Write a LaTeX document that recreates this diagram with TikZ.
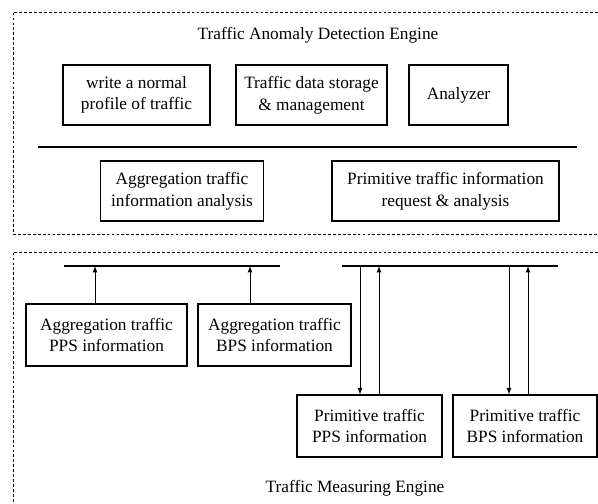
\documentclass[tikz,border=0pt]{standalone}
\usepackage{fontspec}
\setmainfont{Liberation Serif}
\usetikzlibrary{arrows}

\begin{document}
\begin{tikzpicture}[x=0.025cm, y=-0.025cm]
	\tikzstyle{arrow}=[draw, -latex, line width=0.6pt]
	\tikzstyle{frame}=[draw, line width=0.6pt, dash pattern=on 2pt off 1.5pt]
	\tikzstyle{bus}=[draw, line width=1.6pt]
	\tikzstyle{label}=[font=\fontsize{12.3}{15.4}\selectfont]
	\tikzstyle{box}=[draw, line width=0.8pt, align=center, inner sep=0pt, minimum height=1.5cm, label]
	\newcommand\YMods{95}
	\newcommand\YLine{147}
	\newcommand\YAna{191}
	\newcommand\YBus{266}
	\newcommand\YAgg{335}
	\newcommand\YPrim{426}

	\useasboundingbox (0,0) rectangle (598,504);

	 % Detection engine
	\draw [frame] (598,12) -- (13,12) -- (13,234) -- (598,234);
	\node [label] at (318,35) (detect) {Traffic Anomaly Detection Engine};
	\node [box, minimum width=3.675cm] at (136.5,\YMods) (profile) {write a normal\\profile of traffic};
	\node [box, minimum width=3.775cm] at (311.5,\YMods) (storage) {Traffic data storage\\\& management};
	\node [box, minimum width=2.475cm] at (458.5,\YMods) (analyzer) {Analyzer};
	\coordinate (l0) at (38,\YLine);
	\coordinate (l1) at (577,\YLine);
	\path [bus] (l0) -- (l1);
	\node [box, minimum width=4.075cm] at (182,\YAna) (aggana) {Aggregation traffic\\information analysis};
	\node [box, minimum width=5.675cm] at (445.5,\YAna) (primreq) {Primitive traffic information\\request \& analysis};

	 % Measuring engine
	\draw [frame] (598,252) -- (13,252) -- (13,504);
	\coordinate (aggL) at (64,\YBus);
	\coordinate (aggR) at (280,\YBus);
	\coordinate (primL) at (342,\YBus);
	\coordinate (primR) at (558,\YBus);
	\path [bus] (aggL) -- (aggR);
	\path [bus] (primL) -- (primR);
	\node [box, minimum width=4.025cm, minimum height=1.55cm] at (106.5,\YAgg) (aggpps) {Aggregation traffic\\PPS information};
	\node [box, minimum width=3.825cm, minimum height=1.55cm] at (274.5,\YAgg) (aggbps) {Aggregation traffic\\BPS information};
	\node [box, minimum width=3.625cm, minimum height=1.55cm] at (369.5,\YPrim) (primpps) {Primitive traffic\\PPS information};
	\node [box, minimum width=3.6cm, minimum height=1.55cm] at (525,\YPrim) (primbps) {Primitive traffic\\BPS information};
	\node [label] at (355,488) (measure) {Traffic Measuring Engine};

	 % Path Arrows
	\coordinate (a1) at (95,\YBus);
	\coordinate (a2) at (250,\YBus);
	\coordinate (p1) at (360,\YBus);
	\coordinate (p2) at (379,\YBus);
	\coordinate (p3) at (509,\YBus);
	\coordinate (p4) at (528,\YBus);
	\path [arrow] (aggpps.north -| a1) -- (a1);
	\path [arrow] (aggbps.north -| a2) -- (a2);
	\path [arrow] (p1) -- (primpps.north -| p1);
	\path [arrow] (primpps.north -| p2) -- (p2);
	\path [arrow] (p3) -- (primbps.north -| p3);
	\path [arrow] (primbps.north -| p4) -- (p4);
\end{tikzpicture}
\end{document}
